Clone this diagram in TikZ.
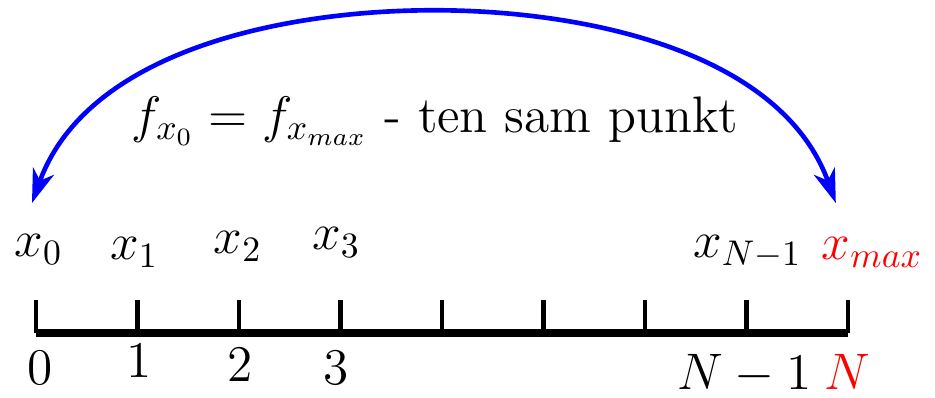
\documentclass[tikz,border=0pt]{standalone}
\usetikzlibrary{arrows.meta}
\begin{document}
\begin{tikzpicture}[
  lbl/.style={anchor=base, inner sep=0pt, font=\Large},
  axisline/.style={line width=2pt},
  tickline/.style={line width=1.2pt},
  jump/.style={blue, line width=1.3pt, {Stealth[length=9.5pt,width=6.2pt,inset=2.8pt]}-{Stealth[length=9.5pt,width=6.2pt,inset=2.8pt]}}
]
\useasboundingbox (-0.355,-0.640) rectangle (8.857,3.281);
% axis
\draw[axisline] (0,0) -- (8,0);
\foreach \i in {0,...,8} {
  \coordinate (t\i) at (\i,0);
  \draw[tickline] (t\i) -- ++(0,0.325);
}
% labels below
\node[lbl] (n0) at (0.04,-0.51) {$0$};
\node[lbl] (n1) at (1.02,-0.44) {$1$};
\node[lbl] (n2) at (2.01,-0.48) {$2$};
\node[lbl] (n3) at (2.96,-0.51) {$3$};
\node[lbl] (nN1) at (6.98,-0.56) {$N-1$};
\node[lbl, red] (nN) at (7.99,-0.56) {$N$};
% labels above
\node[lbl] (x0) at (0.025,0.75) {$x_0$};
\node[lbl] (x1) at (0.97,0.72) {$x_1$};
\node[lbl] (x2) at (1.99,0.78) {$x_2$};
\node[lbl] (x3) at (2.96,0.82) {$x_3$};
\node[lbl] (xN1) at (7.01,0.74) {$x_{N-1}$};
\node[lbl, red] (xmax) at (8.24,0.72) {$x_{max}$};
% statement
\node[lbl] (txt) at (3.93,1.98) {$f_{x_0} = f_{x_{max}}$ - ten sam punkt};
% arrow
\coordinate (L) at (-0.04,1.28);
\coordinate (R) at (7.88,1.28);
\coordinate (T) at (3.92,3.18);
\draw[jump] (L) .. controls (0.50,2.78) and (2.44,3.18) .. (T)
                .. controls (5.40,3.18) and (7.34,2.78) .. (R);
\end{tikzpicture}
\end{document}
